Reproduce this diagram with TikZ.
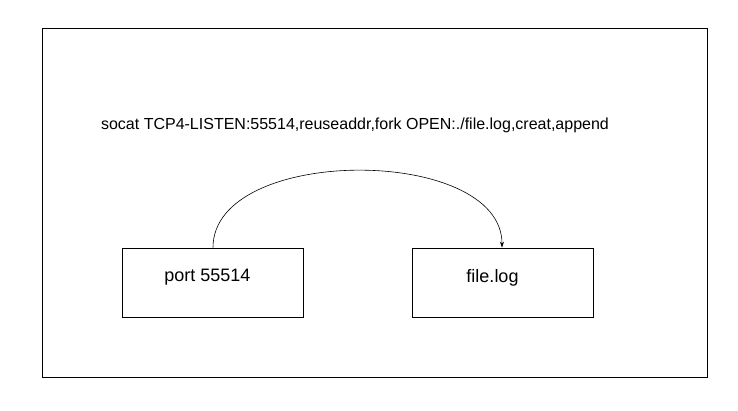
\documentclass[tikz,border=0pt]{standalone}
\usepackage{fontspec}
\setmainfont{Liberation Sans}
\usetikzlibrary{arrows.meta,calc}

\begin{document}
\begin{tikzpicture}[x=1pt, y=-1pt]
	\useasboundingbox (0,0) rectangle (738,411);
	\tikzset{frame/.style={draw, line width=0.9pt}};
	\tikzset{box/.style={frame, minimum width=181pt, minimum height=69pt, inner sep=0pt}};
	\node[box] (P) at (212.5,282.5) {};
	\node[box] (F) at (502.5,282.5) {};
	\node[font=\fontsize{18}{20}\selectfont] (PL) at ($(P)+(-5,-5)$) {port 55514};
	\node[font=\fontsize{18}{20}\selectfont] (FL) at ($(F)+(-10,-5)$) {file.log};
	\node[font=\fontsize{16}{18}\selectfont] (C) at (355,125) {socat TCP4-LISTEN:55514,reuseaddr,fork OPEN:./file.log,creat,append};
%
	\draw[frame] (42,28) rectangle (707,377);
	\draw[line width=0.6pt, -{Stealth[length=6pt,width=4pt]}] ($(P.north)+(0.5,0)$) to[out=90, in=90, looseness=0.91] ($(F.north)+(-0.5,0)$);
\end{tikzpicture}
\end{document}
